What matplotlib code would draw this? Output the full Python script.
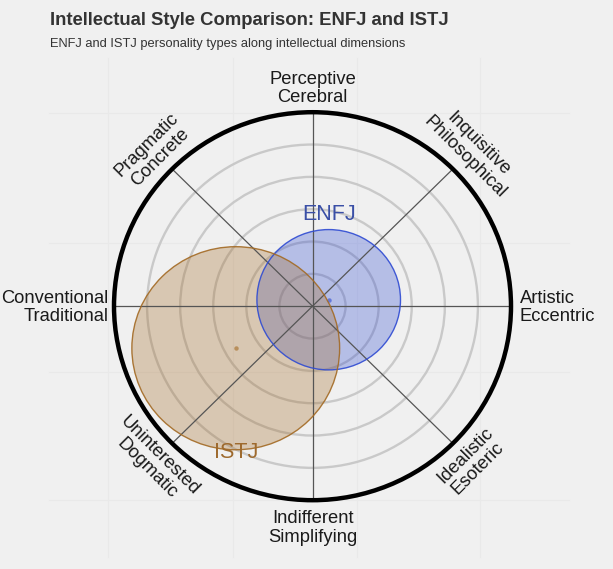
import numpy as np
import matplotlib
matplotlib.use("Agg")
import matplotlib.pyplot as plt
from matplotlib.patches import Circle

plt.rcParams['font.family'] = ['Liberation Sans', 'DejaVu Sans']

# ---- data ----
types = ['ENFJ', 'ISTJ']
type_x = [0.49, -2.32]
type_y = [0.20, -1.30]
type_r = [2.17, 3.14]
type_colors = ['#2f4bd2', '#a36a24']
text_colors = ['#3a4fa6', '#9e6a2e']

ring_levels = [1, 2, 3, 4, 5]
outer_r = 6
axis_angles = [90, 45, 0, -45, -90, -135, 180, 135]
axis_labels = ['Perceptive\nCerebral', 'Inquisitive\nPhilosophical', 'Artistic\nEccentric',
               'Idealistic\nEsoteric', 'Indifferent\nSimplifying', 'Uninterested\nDogmatic',
               'Conventional\nTraditional', 'Pragmatic\nConcrete']

title = 'Intellectual Style Comparison: ENFJ and ISTJ'
subtitle = 'ENFJ and ISTJ personality types along intellectual dimensions'

# ---- figure ----
W, H = 613, 569
fig = plt.figure(figsize=(W / 100, H / 100), dpi=100)
bg = '#f0f0f0'
fig.patch.set_facecolor(bg)
ax = fig.add_axes([0, 0, 1, 1])
ax.set_facecolor(bg)

cx, cy = 312.5, 306.2          # pixel centre
sx, sy = 198.5 / 6, 194.0 / 6  # px per unit
ax.set_xlim((0 - cx) / sx, (W - cx) / sx)
ax.set_ylim((cy - H) / sy, cy / sy)
ax.axis('off')

def px2d(px, py):
    return (px - cx) / sx, (cy - py) / sy

# faint background grid
for gy in [113, 243, 372, 500]:
    x0, yy = px2d(49, gy)
    x1, _ = px2d(569, gy)
    ax.plot([x0, x1], [yy, yy], color='#e9e9e9', lw=0.8, zorder=0)
for gx in [108, 233, 357, 480]:
    xx, y0 = px2d(gx, 58)
    _, y1 = px2d(gx, 557)
    ax.plot([xx, xx], [y0, y1], color='#e9e9e9', lw=0.8, zorder=0)

# rings
for lv in ring_levels:
    ax.add_patch(Circle((0, 0), lv, fill=False, ec='#c9c9c9', lw=1.7, zorder=1))

# type circles
for i, name in enumerate(types):
    ax.add_patch(Circle((type_x[i], type_y[i]), type_r[i], fc=type_colors[i], ec='none',
                        alpha=0.3, zorder=2 + i))
    ax.add_patch(Circle((type_x[i], type_y[i]), type_r[i], fill=False, ec=type_colors[i],
                        lw=1.0, alpha=0.9, zorder=6))
    ax.plot(type_x[i], type_y[i], 'o', ms=3.2, color=type_colors[i], alpha=0.6, mec='none', zorder=6)

# spokes
for a in axis_angles:
    t = np.deg2rad(a)
    ax.plot([0, outer_r * np.cos(t)], [0, outer_r * np.sin(t)], color='#555555', lw=0.9, zorder=4)

# outer circle
ax.add_patch(Circle((0, 0), outer_r, fill=False, ec='black', lw=3.2, zorder=5))

ax.text(type_x[0], type_y[0] + type_r[0] + 0.48, types[0], color=text_colors[0], fontsize=15.5,
        ha='center', va='center', zorder=7)
ax.text(type_x[1], type_y[1] - type_r[1] - 0.1, types[1], color=text_colors[1], fontsize=15.5,
        ha='center', va='center', zorder=7)

# axis labels
for a, lab in zip(axis_angles, axis_labels):
    t = np.deg2rad(a)
    kw = dict(fontsize=13.2, color='#1a1a1a', linespacing=1.08, zorder=7)
    if a == 90:
        ax.text(0, 6.72, lab, ha='center', va='center', **kw)
    elif a == -90:
        ax.text(0, -6.86, lab, ha='center', va='center', **kw)
    elif a == 0:
        ax.text(6.27, -0.03, lab, ha='left', va='center', multialignment='left', **kw)
    elif a == 180:
        ax.text(-6.16, -0.03, lab, ha='right', va='center', multialignment='right', **kw)
    else:
        rr = 6.8
        rot = a - 90 if a > 0 else a + 90
        ax.text(rr * np.cos(t), rr * np.sin(t), lab, ha='center', va='center',
                rotation=rot, rotation_mode='anchor', multialignment='center', **kw)

fig.text(50 / W, 1 - 20.5 / H, title, fontsize=13.3, fontweight='bold', color='#333333',
         ha='left', va='center')
fig.text(50 / W, 1 - 44.5 / H, subtitle, fontsize=9.3, color='#333333', ha='left', va='center')

fig.savefig('out.png', dpi=100, facecolor=bg)
